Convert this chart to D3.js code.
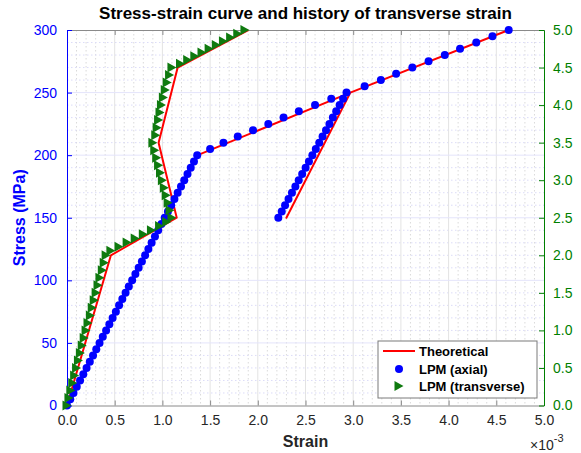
<!DOCTYPE html>
<html>
<head>
<meta charset="utf-8">
<script src="https://cdn.jsdelivr.net/npm/d3@7"></script>
<style>
  html, body { margin: 0; padding: 0; background: #fff; }
  svg { display: block; font-family: "Liberation Sans", Arial, Helvetica, sans-serif; }
</style>
</head>
<body>
<svg id="chart" width="581" height="453"></svg>
<script>
// ---- tick values ----
const strainTicks = [0, 0.5, 1.0, 1.5, 2.0, 2.5, 3.0, 3.5, 4.0, 4.5, 5.0];
const stressTicks = [0, 50, 100, 150, 200, 250, 300];
const rightTicks = [0, 0.5, 1.0, 1.5, 2.0, 2.5, 3.0, 3.5, 4.0, 4.5, 5.0];

// ---- theoretical curves (strain in 1e-3) ----
const theoryAxialStrain = [0, 1.37, 2.97, 2.30, 2.97, 4.63];
const theoryAxialStress = [0, 200, 250, 150, 250, 300];
const theoryTransStrain = [0, 0.46, 1.15, 0.96, 1.16, 1.90];
const theoryTransLevel = [0, 2.0, 2.5, 3.5, 4.5, 5.0];

// ---- LPM axial results (left axis) ----
const axialStress = [
  0, 5, 10, 15, 20, 25, 30, 35, 40, 45, 50, 55, 60, 65, 70, 75, 80, 85, 90, 95, 100,
  105, 110, 115, 120, 125, 130, 135, 140, 145, 150, 155, 160, 165, 170, 175, 180, 185, 190, 195, 200,
  205, 210, 215, 220, 225, 230, 235, 240, 245, 250,
  245, 240, 235, 230, 225, 220, 215, 210, 205, 200, 195, 190, 185, 180, 175, 170, 165, 160, 155, 150,
  255, 260, 265, 270, 275, 280, 285, 290, 295, 300
];
const axialStrain = [
  0, 0.034, 0.068, 0.102, 0.137, 0.171, 0.205, 0.239, 0.273, 0.307, 0.341, 0.375, 0.410, 0.444, 0.478, 0.512, 0.546, 0.580, 0.614, 0.648, 0.683,
  0.717, 0.751, 0.785, 0.819, 0.853, 0.887, 0.922, 0.956, 0.990, 1.024, 1.058, 1.092, 1.126, 1.160, 1.195, 1.229, 1.263, 1.297, 1.331, 1.365,
  1.50, 1.64, 1.79, 1.95, 2.11, 2.27, 2.43, 2.60, 2.77, 2.93,
  2.894, 2.858, 2.822, 2.787, 2.751, 2.715, 2.679, 2.644, 2.608, 2.572, 2.536, 2.501, 2.465, 2.429, 2.394, 2.358, 2.322, 2.286, 2.251, 2.215,
  3.12, 3.29, 3.45, 3.62, 3.79, 3.96, 4.12, 4.29, 4.46, 4.63
];

// ---- LPM transverse results (right axis) ----
const transLevel = [
  0, 0.1, 0.2, 0.3, 0.4, 0.5, 0.6, 0.7, 0.8, 0.9, 1.0, 1.1, 1.2, 1.3, 1.4, 1.5, 1.6, 1.7, 1.8, 1.9, 2.0,
  2.06, 2.115, 2.17, 2.225, 2.28, 2.335, 2.39, 2.445, 2.50,
  2.6, 2.7, 2.8, 2.9, 3.0, 3.1, 3.2, 3.3, 3.4, 3.5,
  3.6, 3.7, 3.8, 3.9, 4.0, 4.1, 4.2, 4.3, 4.4, 4.5,
  4.55, 4.6, 4.65, 4.7, 4.75, 4.8, 4.85, 4.9, 4.95, 5.0
];
const transStrain = [
  0, 0.02, 0.04, 0.06, 0.08, 0.10, 0.12, 0.14, 0.16, 0.18, 0.20, 0.22, 0.245, 0.265, 0.285, 0.305, 0.325, 0.345, 0.37, 0.39, 0.41,
  0.46, 0.545, 0.63, 0.715, 0.80, 0.885, 0.97, 1.045, 1.10,
  1.08, 1.06, 1.04, 1.02, 1.00, 0.98, 0.96, 0.94, 0.92, 0.90,
  0.93, 0.945, 0.96, 0.975, 0.99, 1.01, 1.03, 1.05, 1.075, 1.10,
  1.19, 1.265, 1.34, 1.415, 1.49, 1.565, 1.64, 1.715, 1.79, 1.865
];

const legendLabels = ["Theoretical", "LPM (axial)", "LPM (transverse)"];

// ---- colours ----
const BLUE = "#0000ff";
const GREEN = "#007f00";
const GREEN_MARK = "#0f7a0f";
const RED = "#ff0000";
const DARK = "#262626";

const svg = d3.select("#chart");
const L = 67, R = 544, T = 30, B = 405.5;

const x = d3.scaleLinear().domain([0, 5]).range([L, R]);
const yL = d3.scaleLinear().domain([0, 300]).range([B, T]);
const yR = d3.scaleLinear().domain([0, 5]).range([B, T]);

svg.append("rect").attr("width", 581).attr("height", 453).attr("fill", "#fff");

// ---- grid ----
const grid = svg.append("g");
const xMinor = d3.range(0, 5.0001, 0.1).filter(v => Math.abs(v * 2 - Math.round(v * 2)) > 1e-6);
const yMinor = d3.range(0, 300.001, 10).filter(v => v % 50 !== 0);
grid.selectAll(".xm").data(xMinor).join("line")
  .attr("x1", d => x(d)).attr("x2", d => x(d)).attr("y1", T).attr("y2", B)
  .attr("stroke", "#dadada").attr("stroke-width", 1).attr("stroke-dasharray", "1.5,2.5");
grid.selectAll(".ym").data(yMinor).join("line")
  .attr("x1", L).attr("x2", R).attr("y1", d => yL(d)).attr("y2", d => yL(d))
  .attr("stroke", "#dcdcf8").attr("stroke-width", 1).attr("stroke-dasharray", "1.5,2.5");
grid.selectAll(".xM").data(strainTicks.slice(1, -1)).join("line")
  .attr("x1", d => x(d)).attr("x2", d => x(d)).attr("y1", T).attr("y2", B)
  .attr("stroke", "#e3e3e3").attr("stroke-width", 1);
grid.selectAll(".yM").data(stressTicks.slice(1, -1)).join("line")
  .attr("x1", L).attr("x2", R).attr("y1", d => yL(d)).attr("y2", d => yL(d))
  .attr("stroke", "#e4e4fb").attr("stroke-width", 1);

// ---- axes ----
const xAxisB = d3.axisBottom(x).tickValues(strainTicks).tickSizeInner(-5).tickSizeOuter(0)
  .tickPadding(10).tickFormat(d3.format(".1f"));
const gxb = svg.append("g").attr("transform", `translate(0,${B})`).call(xAxisB);
gxb.select(".domain").attr("stroke", "#8a8a8a");
gxb.selectAll(".tick line").attr("stroke", "#8a8a8a");
gxb.selectAll("text").attr("fill", DARK).attr("font-size", 14)
  .attr("font-family", "Liberation Sans, Arial, sans-serif");

const xAxisT = d3.axisTop(x).tickValues(strainTicks).tickSizeInner(-5).tickSizeOuter(0).tickFormat("");
const gxt = svg.append("g").attr("transform", `translate(0,${T})`).call(xAxisT);
gxt.select(".domain").attr("stroke", "#8a8a8a");
gxt.selectAll(".tick line").attr("stroke", "#8a8a8a");

const yAxisL = d3.axisLeft(yL).tickValues(stressTicks).tickSizeInner(-5).tickSizeOuter(0).tickPadding(10);
const gyl = svg.append("g").attr("transform", `translate(${L},0)`).call(yAxisL);
gyl.select(".domain").attr("stroke", BLUE);
gyl.selectAll(".tick line").attr("stroke", BLUE);
gyl.selectAll("text").attr("fill", BLUE).attr("font-size", 14)
  .attr("font-family", "Liberation Sans, Arial, sans-serif");

const yAxisR = d3.axisRight(yR).tickValues(rightTicks).tickSizeInner(-5).tickSizeOuter(0)
  .tickPadding(9).tickFormat(d3.format(".1f"));
const gyr = svg.append("g").attr("transform", `translate(${R},0)`).call(yAxisR);
gyr.select(".domain").attr("stroke", GREEN);
gyr.selectAll(".tick line").attr("stroke", GREEN);
gyr.selectAll("text").attr("fill", GREEN).attr("font-size", 14)
  .attr("font-family", "Liberation Sans, Arial, sans-serif");

// ---- theoretical lines ----
const lineAxial = d3.line().x(i => x(theoryAxialStrain[i])).y(i => yL(theoryAxialStress[i]));
const lineTrans = d3.line().x(i => x(theoryTransStrain[i])).y(i => yR(theoryTransLevel[i]));
const plot = svg.append("g");
plot.append("path").attr("d", lineAxial(d3.range(theoryAxialStrain.length)))
  .attr("fill", "none").attr("stroke", RED).attr("stroke-width", 2).attr("stroke-linejoin", "round");
plot.append("path").attr("d", lineTrans(d3.range(theoryTransStrain.length)))
  .attr("fill", "none").attr("stroke", RED).attr("stroke-width", 2).attr("stroke-linejoin", "round");

// ---- axial markers ----
plot.selectAll(".ax").data(d3.range(axialStrain.length)).join("circle")
  .attr("cx", i => x(axialStrain[i])).attr("cy", i => yL(axialStress[i]))
  .attr("r", 4).attr("fill", BLUE);

// ---- transverse markers (right-pointing triangles) ----
const tri = "M-4.5,-5L4.5,0L-4.5,5Z";
plot.selectAll(".tr").data(d3.range(transStrain.length)).join("path")
  .attr("d", tri)
  .attr("transform", i => `translate(${x(transStrain[i])},${yR(transLevel[i])})`)
  .attr("fill", GREEN_MARK);

// ---- title and axis labels ----
svg.append("text").attr("x", (L + R) / 2).attr("y", 19).attr("text-anchor", "middle")
  .attr("font-size", 17).attr("font-weight", "bold").attr("fill", "#000")
  .text("Stress-strain curve and history of transverse strain");

svg.append("text").attr("transform", `translate(25,${(T + B) / 2}) rotate(-90)`)
  .attr("text-anchor", "middle").attr("font-size", 16).attr("font-weight", "bold").attr("fill", BLUE)
  .text("Stress (MPa)");

svg.append("text").attr("x", (L + R) / 2).attr("y", 447).attr("text-anchor", "middle")
  .attr("font-size", 16).attr("font-weight", "bold").attr("fill", DARK)
  .text("Strain");

const exp = svg.append("text").attr("x", 530).attr("y", 450).attr("font-size", 14).attr("fill", DARK);
exp.append("tspan").text("\u00d710");
exp.append("tspan").attr("dy", -8).attr("font-size", 11).text("-3");

// ---- legend ----
const lg = svg.append("g").attr("transform", "translate(378,341)");
lg.append("rect").attr("width", 159).attr("height", 57).attr("fill", "#fff")
  .attr("stroke", "#7a7a7a").attr("stroke-width", 1);
const rows = [10, 28, 45];
lg.append("line").attr("x1", 5).attr("x2", 37).attr("y1", rows[0]).attr("y2", rows[0])
  .attr("stroke", RED).attr("stroke-width", 2);
lg.append("circle").attr("cx", 21).attr("cy", rows[1]).attr("r", 4).attr("fill", BLUE);
lg.append("path").attr("d", tri).attr("transform", `translate(21,${rows[2]})`).attr("fill", GREEN_MARK);
lg.selectAll(".lt").data(legendLabels).join("text")
  .attr("x", 41).attr("y", (d, i) => rows[i]).attr("dy", "0.35em")
  .attr("font-size", 13).attr("font-weight", "bold").attr("fill", "#000")
  .text(d => d);
</script>
</body>
</html>
